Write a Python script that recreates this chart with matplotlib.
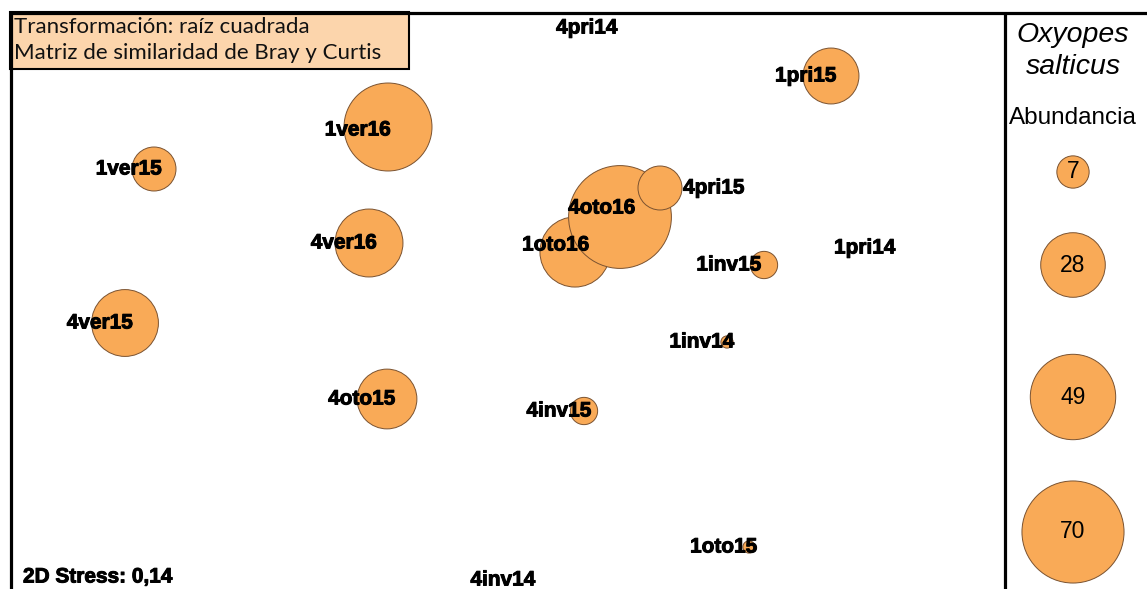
import matplotlib.pyplot as plt
from matplotlib.patches import Circle, Rectangle
import matplotlib.patheffects as pe
import numpy as np

# nMDS ordination (coordinates) and abundance of Oxyopes salticus
samples = ['4pri14', '1pri15', '1ver16', '1ver15', '1oto16', '4oto16', '4pri15',
           '4ver16', '1inv15', '1pri14', '4ver15', '1inv14', '4oto15', '4inv15',
           '1oto15', '4inv14']
mds_x = [612, 831, 388, 154, 575, 620, 660, 369, 764, 890, 125, 727, 387, 584, 749, 528]
mds_y = [28, 76, 127, 169, 252, 217, 188, 243, 265, 248, 323, 342, 399, 411, 547, 580]
abundance = [0, 21, 52, 13, 33, 71, 13, 31, 5, 0, 30, 1, 24, 5, 1, 0]

legend_values = [7, 28, 49, 70]
legend_y = [172, 265, 397, 532]

stress = '0,14'

k = 6.1  # radius = k * sqrt(abundance)
fill = '#F9AA57'
edge = '#7A5230'
heavy = [pe.withStroke(linewidth=0.7, foreground='black')]

fig = plt.figure(figsize=(11.47, 5.89), dpi=100)
ax = fig.add_axes([0, 0, 1, 1])
ax.set_xlim(0, 1147)
ax.set_ylim(589, 0)
ax.axis('off')

# frame
ax.plot([10, 1147], [12.5, 12.5], color='black', lw=2.3, solid_capstyle='butt')
ax.plot([10.5, 10.5], [12, 589], color='black', lw=2.3, solid_capstyle='butt')
ax.plot([1005, 1005], [12, 589], color='black', lw=2.3, solid_capstyle='butt')

# bubbles
for x, y, a in zip(mds_x, mds_y, abundance):
    if a > 0:
        ax.add_patch(Circle((x, y), k * np.sqrt(a), facecolor=fill, edgecolor=edge, lw=0.7))

# labels (mostly sit left of the point, a few are nudged)
nudge = {'4pri14': (-25, 0), '4pri15': (54, 0), '1inv15': (-35, 0), '4oto16': (-18, -9),
         '1oto16': (-19, -7), '1ver16': (-30, 3), '1pri14': (-25, 0), '4inv14': (-25, 0)}
for name, x, y in zip(samples, mds_x, mds_y):
    dx, dy = nudge.get(name, (-25, 0))
    ax.text(x + dx, y + dy, name, ha='center', va='center', fontsize=15,
            fontweight='bold', family='Liberation Sans', color='black', path_effects=heavy)

ax.text(23, 577, '2D Stress: ' + stress, ha='left', va='center', fontsize=15,
        fontweight='bold', family='Liberation Sans', path_effects=heavy)

# info box
ax.add_patch(Rectangle((10, 12), 399, 57, facecolor='#FCD5AC', edgecolor='black', lw=1.5))
ax.text(14, 33, 'Transformación: raíz cuadrada', ha='left', va='baseline',
        fontsize=16, family='Lato', color='#111111')
ax.text(14, 59, 'Matriz de similaridad de Bray y Curtis', ha='left', va='baseline',
        fontsize=16, family='Lato', color='#111111')

# legend panel
cx = 1073
ax.text(cx, 35, 'Oxyopes', ha='center', va='center', fontsize=20.5, style='italic',
        family='Liberation Sans')
ax.text(cx, 67, 'salticus', ha='center', va='center', fontsize=20.5, style='italic',
        family='Liberation Sans')
ax.text(cx, 118, 'Abundancia', ha='center', va='center', fontsize=17.5, family='Liberation Sans')
for v, y in zip(legend_values, legend_y):
    ax.add_patch(Circle((cx, y), k * np.sqrt(v), facecolor=fill, edgecolor=edge, lw=0.7))
    ax.text(cx, y, str(v), ha='center', va='center', fontsize=16.5, family='Liberation Sans')

fig.savefig('out.png', dpi=100)
